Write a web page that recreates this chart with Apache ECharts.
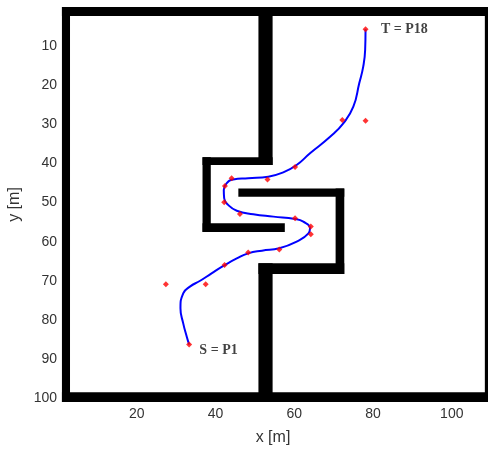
<!DOCTYPE html>
<html>
<head>
<meta charset="utf-8">
<script src="https://cdn.jsdelivr.net/npm/echarts@6/dist/echarts.min.js"></script>
<style>
html,body{margin:0;padding:0;background:#fff;}
#chart{width:488px;height:452px;}
</style>
</head>
<body>
<div id="chart"></div>
<script>
// Control points P1..P18 (x, y in m)
const controlX = [33.3, 37.5, 27.4, 42.3, 48.3, 56.2, 64.2, 64.2, 60.2, 46.2, 42.2, 42.4, 44.1, 53.2, 60.2, 72.2, 78.1, 78.1];
const controlY = [86.3, 70.9, 70.9, 66.0, 62.8, 62.0, 58.1, 56.1, 54.0, 52.9, 49.9, 45.8, 43.8, 44.1, 40.9, 28.9, 29.1, 5.7];

// Smoothed path (x, y in m)
const pathX = [33.3, 32.7, 31.8, 31.1, 31.8, 33.5, 36.1, 39.0, 42.0, 45.4, 48.3, 51.8, 56.2, 60.6, 63.6, 64.0, 62.3, 60.2, 54.7, 49.6, 45.4, 43.2, 42.2, 42.1, 42.8, 44.5, 48.3, 53.4, 57.2, 60.6, 64.0, 69.1, 72.5, 75.0, 76.5, 77.5, 78.0, 78.1];
const pathY = [86.3, 84.3, 80.9, 77.0, 73.2, 71.5, 70.0, 68.1, 66.2, 64.3, 63.0, 62.3, 61.7, 60.0, 57.9, 56.6, 54.9, 54.2, 53.6, 53.0, 52.1, 50.6, 48.9, 46.8, 45.1, 44.1, 43.8, 43.4, 42.3, 40.4, 37.4, 33.2, 29.7, 25.5, 19.5, 15.3, 11.0, 5.7];

// Walls: [x1, x2, y1, y2] in m
const walls = [
  [1, 112, 0, 2.3],
  [1, 112, 98.5, 101],
  [1, 3.05, 0, 101],
  [108.4, 112, 0, 101],
  [50.9, 54.5, 0, 40.4],
  [36.7, 54.5, 38.4, 40.4],
  [36.7, 38.8, 38.4, 57.5],
  [36.7, 57.6, 55.3, 57.5],
  [45.8, 72.7, 46.4, 48.5],
  [70.5, 72.7, 46.4, 68.3],
  [50.9, 72.7, 65.5, 68.3],
  [50.9, 54.5, 65.5, 101]
];

// Annotations
const labelText = ['T = P18', 'S = P1'];
const labelX = [82.0, 35.9];
const labelY = [5.6, 87.7];

const xTicks = [20, 40, 60, 80, 100];
const yTicks = [10, 20, 30, 40, 50, 60, 70, 80, 90, 100];

const chart = echarts.init(document.getElementById('chart'), null, {renderer: 'canvas'});

const tickColor = '#333';
const option = {
  backgroundColor: '#fff',
  animation: false,
  grid: {left: 58, right: 0, top: 7, bottom: 50, containLabel: false, outerBoundsMode: 'none'},
  xAxis: {
    type: 'value', min: 0, max: 109.2, interval: 20,
    axisLine: {show: false}, axisTick: {show: false}, splitLine: {show: false},
    axisLabel: {
      margin: 5, color: tickColor, fontFamily: 'Liberation Sans', fontSize: 14,
      formatter: v => xTicks.indexOf(v) >= 0 ? String(v) : ''
    },
    name: 'x [m]', nameLocation: 'middle', nameGap: 28,
    nameTextStyle: {color: tickColor, fontFamily: 'Liberation Sans', fontSize: 16}
  },
  yAxis: {
    type: 'value', min: 0, max: 101, interval: 10, inverse: true,
    axisLine: {show: false}, axisTick: {show: false}, splitLine: {show: false},
    axisLabel: {
      margin: 1, color: tickColor, fontFamily: 'Liberation Sans', fontSize: 14,
      formatter: v => yTicks.indexOf(v) >= 0 ? String(v) : ''
    },
    name: 'y [m]', nameLocation: 'middle', nameGap: 33,
    nameTextStyle: {color: tickColor, fontFamily: 'Liberation Sans', fontSize: 16}
  },
  series: [
    {
      type: 'custom',
      clip: true,
      data: walls,
      renderItem: function (params, api) {
        const p1 = api.coord([api.value(0), api.value(2)]);
        const p2 = api.coord([api.value(1), api.value(3)]);
        return {
          type: 'rect',
          shape: {
            x: Math.min(p1[0], p2[0]), y: Math.min(p1[1], p2[1]),
            width: Math.abs(p2[0] - p1[0]), height: Math.abs(p2[1] - p1[1])
          },
          style: {fill: '#000'}
        };
      },
      encode: {x: [0, 1], y: [2, 3]},
      z: 1
    },
    {
      type: 'line',
      data: pathX.map((x, i) => [x, pathY[i]]),
      smooth: true,
      showSymbol: false,
      lineStyle: {color: '#0000ff', width: 2},
      z: 2
    },
    {
      type: 'scatter',
      data: controlX.map((x, i) => [x, controlY[i]]),
      symbol: 'diamond',
      symbolSize: 6,
      itemStyle: {color: '#ff0000'},
      z: 3
    },
    {
      type: 'scatter',
      data: labelX.map((x, i) => [x, labelY[i], labelText[i]]),
      symbolSize: 0,
      label: {
        show: true, position: 'right', distance: 0,
        formatter: p => p.value[2],
        fontFamily: 'Liberation Serif', fontWeight: 'bold', fontSize: 14, color: '#111'
      },
      z: 4
    }
  ]
};
chart.setOption(option);
</script>
</body>
</html>
